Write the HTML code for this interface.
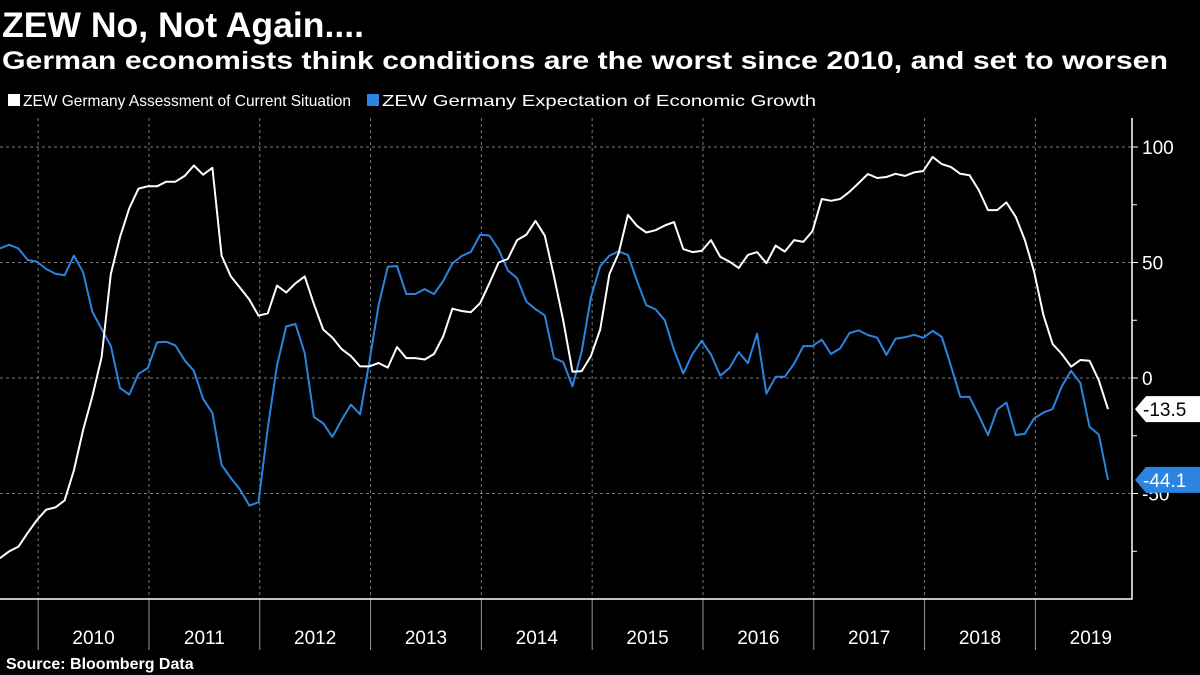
<!DOCTYPE html>
<html><head><meta charset="utf-8"><style>
html,body{margin:0;padding:0;background:#000;}
svg{display:block;font-family:"Liberation Sans","DejaVu Sans",sans-serif;}
</style></head><body>
<svg id="chart" width="1200" height="675" viewBox="0 0 1200 675">
<rect x="0" y="0" width="1200" height="675" fill="#000"/>
<text x="2" y="37" fill="#fff" font-size="35" font-weight="bold" textLength="362" lengthAdjust="spacingAndGlyphs">ZEW No, Not Again....</text>
<text x="2" y="69" fill="#fff" font-size="25" font-weight="bold" textLength="1166" lengthAdjust="spacingAndGlyphs">German economists think conditions are the worst since 2010, and set to worsen</text>
<g>
<g>
<rect x="8" y="94" width="12" height="12" fill="#fff"/>
<text x="23" y="106" fill="#fff" font-size="16" textLength="328" lengthAdjust="spacingAndGlyphs">ZEW Germany Assessment of Current Situation</text>
</g>
<g>
<rect x="367" y="94" width="12" height="12" fill="#2a84e0"/>
<text x="382" y="106" fill="#fff" font-size="16" textLength="434" lengthAdjust="spacingAndGlyphs">ZEW Germany Expectation of Economic Growth</text>
</g>
</g>
<g id="grid"></g>
<g id="axes"></g>
<g id="series"></g>
<text x="6" y="669" fill="#fff" font-size="16" font-weight="bold">Source: Bloomberg Data</text>
</svg>
<script>
const startYear = 2009, startMonth = 8;
const yTicks = [100, 50, 0, -50];
const yearLabels = ["2010","2011","2012","2013","2014","2015","2016","2017","2018","2019"];
const currentSituation = [-78,-75,-73,-67,-61.5,-57,-56,-53,-40,-22.5,-8,9,45,61,73.5,82,83,83,85,85,87.5,92,88,91,53,44,39,34,27,28,40,37,41,44,32,21,17.5,12.5,9.5,5,5,6.5,4.5,13.4,8.6,8.6,8,10.4,18,30,29,28.5,32.4,41,50,51.5,59.7,62,68,61.6,44,25,2.7,3,9.5,21,45,54,70.6,65.8,63,64,66,67.5,55.8,54.5,55,59.7,52.5,50.4,47.6,53.3,54.5,49.7,57.3,54.7,59.7,58.9,63.6,77.5,76.7,77.5,80.6,84.4,88.3,86.6,87,88.4,87.5,89,89.6,95.7,92.6,91.3,88.4,87.8,81.4,72.7,72.7,76,69.8,59.7,46,27.3,14.7,10.4,4.9,7.8,7.5,-1,-13.5];
const economicExpectation = [56.1,57.7,56.0,51.1,50.4,47.2,45.1,44.5,53.0,45.8,28.7,21.2,14.0,-4.3,-7.2,1.8,4.3,15.4,15.7,14.1,7.6,3.1,-9.0,-15.1,-37.6,-43.3,-48.3,-55.2,-53.8,-21.6,5.4,22.3,23.4,10.8,-16.9,-19.6,-25.5,-18.2,-11.5,-15.7,6.9,31.5,48.2,48.5,36.3,36.4,38.5,36.3,42.0,49.6,52.8,54.6,62.0,61.7,55.7,46.6,43.2,33.1,29.8,27.1,8.6,6.9,-3.6,11.5,34.9,48.4,53.0,54.8,53.3,41.9,31.5,29.7,25.0,12.1,1.9,10.4,16.1,10.2,1.0,4.3,11.2,6.4,19.2,-6.8,0.5,0.5,6.2,13.8,13.8,16.6,10.4,12.8,19.5,20.6,18.6,17.5,10.0,17.0,17.6,18.7,17.4,20.4,17.8,5.1,-8.2,-8.2,-16.1,-24.7,-13.7,-10.6,-24.7,-24.1,-17.5,-15.0,-13.4,-3.6,3.1,-2.1,-21.1,-24.5,-44.1];

const NS = "http://www.w3.org/2000/svg";
const plotL = 0, plotR = 1132, plotT = 118, plotB = 599;
const nPts = currentSituation.length;
const xStep = 1108 / 120;
function xScale(i){ return plotL + i * xStep; }
function yScale(v){ return 378 - v * 2.31; }
function mk(tag, attrs, parent){ const e = document.createElementNS(NS, tag); for (const k in attrs) e.setAttribute(k, attrs[k]); parent.appendChild(e); return e; }
const grid = document.getElementById('grid'), axes = document.getElementById('axes'), series = document.getElementById('series');

yTicks.forEach(function(t){
  const y = yScale(t);
  const l = mk('line', {x1: plotL, x2: plotR, y1: y, y2: y, stroke: '#777', 'stroke-width': 1, 'stroke-dasharray': '3,3'}, grid);
  
  
  const tk = mk('line', {x1: plotR, x2: plotR + 6, y1: y, y2: y, stroke: '#fff', 'stroke-width': 1}, axes);
  
  
  const tx = mk('text', {x: plotR + 10, y: y + 7, fill: '#fff', 'font-size': 19}, axes);
  tx.textContent = String(t);
  
  
});
for (let t = -75; t <= 100; t += 50) {
  const y = yScale(t);
  const tk = mk('line', {x1: plotR, x2: plotR + 5, y1: y, y2: y, stroke: '#fff', 'stroke-width': 1}, axes);
  
  
}
const bounds = [];
yearLabels.forEach(function(lab, k){
  const idx = (12 - startMonth + 1) + 12 * k;
  bounds.push(xScale(idx) - 8);
});
yearLabels.forEach(function(lab, k){
  const x = bounds[k];
  const g = mk('line', {x1: x, x2: x, y1: plotT, y2: plotB, stroke: '#777', 'stroke-width': 1, 'stroke-dasharray': '3,3'}, grid);
  
  
  const s = mk('line', {x1: x, x2: x, y1: plotB, y2: 650, stroke: '#999', 'stroke-width': 1}, axes);
  
  
  const nx = k < bounds.length - 1 ? bounds[k + 1] : bounds[k] + 12 * xStep;
  const tx = mk('text', {x: (x + nx) / 2, y: 644, fill: '#fff', 'font-size': 19, 'text-anchor': 'middle'}, axes);
  tx.textContent = lab;
  
  
});
const ax = mk('path', {d: 'M' + plotL + ' ' + plotB + ' H' + plotR + ' V' + plotT, fill: 'none', stroke: '#fff', 'stroke-width': 1.5}, axes);



function drawLine(vals, color, name){
  const d = vals.map(function(v, i){ return (i ? 'L' : 'M') + xScale(i).toFixed(1) + ' ' + yScale(v).toFixed(1); }).join(' ');
  const p = mk('path', {d: d, fill: 'none', stroke: color, 'stroke-width': 2, 'stroke-linejoin': 'round'}, series);
  
  
}
drawLine(economicExpectation, '#2a84e0', 'expectation-line');
drawLine(currentSituation, '#ffffff', 'current-situation-line');

function lastLabel(v, bg, fg, name){
  const y = yScale(v);
  const g = mk('g', {}, axes);
  
  
  mk('path', {d: 'M1135 ' + y + ' L1146 ' + (y - 13) + ' H1200 V' + (y + 13) + ' H1146 Z', fill: bg}, g);
  const t = mk('text', {x: 1143, y: y + 7, fill: fg, 'font-size': 19}, g);
  t.textContent = v.toFixed(1);
}
lastLabel(currentSituation[nPts - 1], '#ffffff', '#000', 'last-value-current');
lastLabel(economicExpectation[economicExpectation.length - 1], '#2a84e0', '#fff', 'last-value-expectation');
</script>
</body></html>
